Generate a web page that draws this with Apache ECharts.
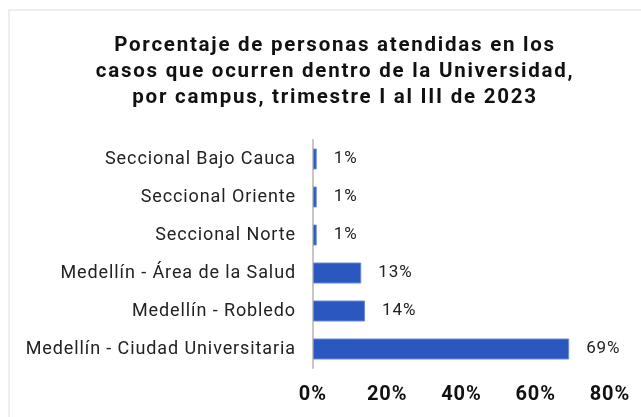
<!DOCTYPE html>
<html>
<head>
<meta charset="utf-8">
<script src="https://cdn.jsdelivr.net/npm/echarts@6/dist/echarts.min.js"></script>
<style>
html,body{margin:0;padding:0;background:#fff;}
#chart{width:641px;height:417px;}
</style>
</head>
<body>
<div id="chart"></div>
<script>
const titleText = 'Porcentaje de personas atendidas en los\ncasos que ocurren dentro de la Universidad,\npor campus, trimestre I al III de 2023';
const categories = ['Medellín - Ciudad Universitaria', 'Medellín - Robledo', 'Medellín - Área de la Salud', 'Seccional Norte', 'Seccional Oriente', 'Seccional Bajo Cauca'];
const values = [69, 14, 13, 1, 1, 1];
const xTicks = [0, 20, 40, 60, 80];

// letter spacing of the text, keyed by weight + font size (the reference text is tracked wide)
const SPACING = { 'b20.5': 1.75, 'b20': 1, 'n18': 0.9, 'n17': 0.9 };
(function () {
  const proto = CanvasRenderingContext2D.prototype;
  const orig = proto.fillText;
  proto.fillText = function (t, x, y, w) {
    const m = /(\d+(?:\.\d+)?)px/.exec(this.font);
    const key = (/bold/.test(this.font) ? 'b' : 'n') + (m ? m[1] : '');
    if ('letterSpacing' in this) this.letterSpacing = (SPACING[key] || 0) + 'px';
    return w === undefined ? orig.call(this, t, x, y) : orig.call(this, t, x, y, w);
  };
})();

const chart = echarts.init(document.getElementById('chart'), null, { renderer: 'canvas' });
chart.setOption({
  animation: false,
  backgroundColor: '#ffffff',
  graphic: [{
    type: 'rect',
    shape: { x: 9, y: 10, width: 700, height: 500 },
    style: { fill: 'none', stroke: '#eeeeee', lineWidth: 2 },
    silent: true
  }],
  title: {
    text: titleText,
    left: 330,
    textAlign: 'center',
    top: 28,
    textStyle: {
      fontFamily: 'Roboto',
      fontWeight: 'bold',
      fontSize: 20.5,
      lineHeight: 26,
      color: '#111111'
    }
  },
  grid: { left: 313, right: 31, top: 140, bottom: 49, containLabel: false },
  xAxis: {
    type: 'value',
    min: xTicks[0],
    max: xTicks[xTicks.length - 1],
    interval: xTicks[1] - xTicks[0],
    axisLine: { show: false },
    axisTick: { show: false },
    splitLine: { show: false },
    axisLabel: {
      formatter: '{value}%',
      margin: 17,
      fontFamily: 'Roboto',
      fontWeight: 'bold',
      fontSize: 20,
      color: '#111111'
    }
  },
  yAxis: {
    type: 'category',
    data: categories,
    axisLine: { show: true, lineStyle: { color: '#c6c6c6', width: 2 } },
    axisTick: { show: false },
    axisLabel: {
      margin: 17,
      fontFamily: 'Roboto',
      fontSize: 18,
      color: '#222222'
    }
  },
  series: [{
    type: 'bar',
    data: values,
    barWidth: 21,
    itemStyle: { color: '#2b57c0', borderColor: '#6a8ad8', borderWidth: 1 },
    label: {
      show: true,
      position: 'right',
      distance: 17,
      formatter: '{c}%',
      fontFamily: 'Roboto',
      fontSize: 17,
      color: '#222222'
    }
  }]
});
</script>
</body>
</html>
